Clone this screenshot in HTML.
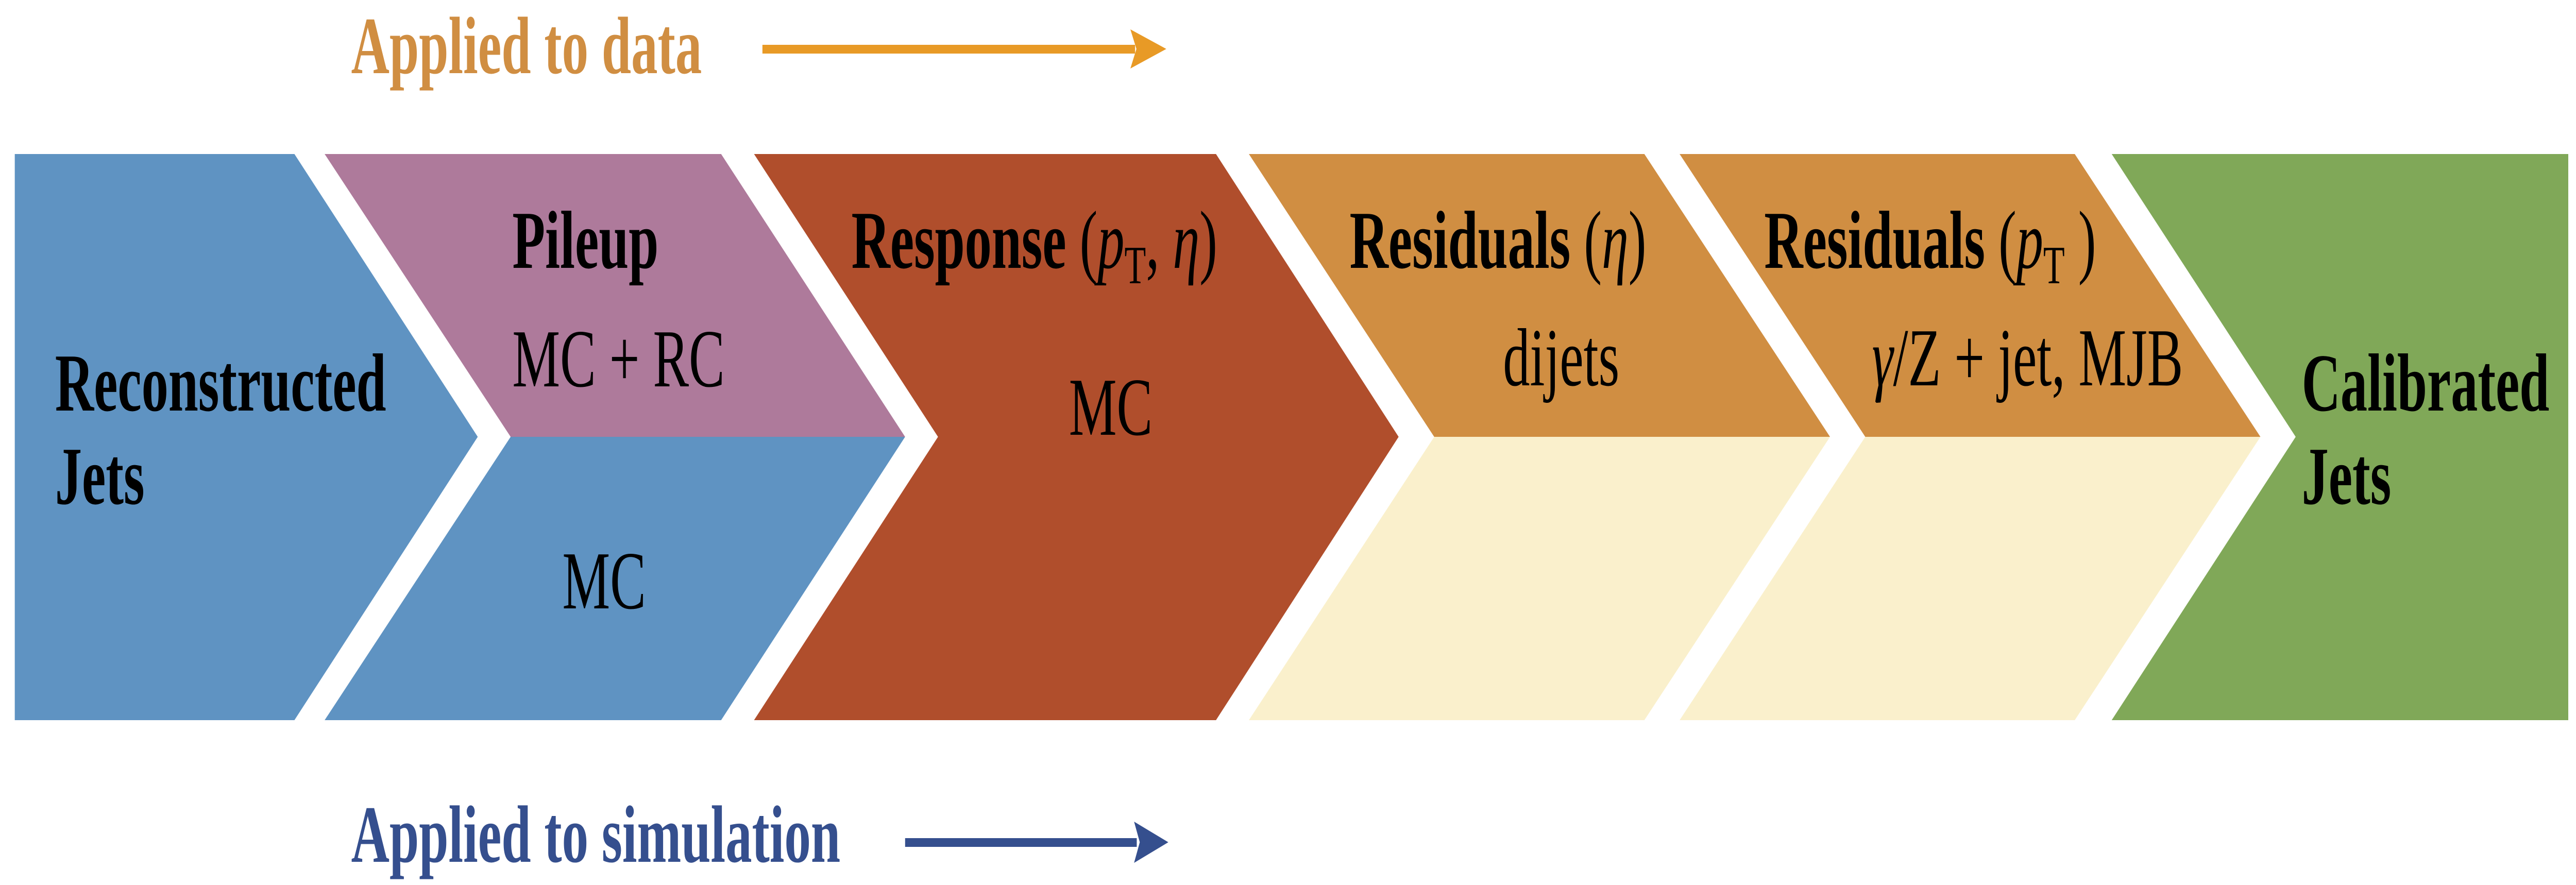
<!DOCTYPE html>
<html><head><meta charset="utf-8"><style>
html,body{margin:0;padding:0;background:#fff;overflow:hidden;width:100%;height:100%;}
svg{display:block;width:100vw;height:100vh;}
text{font-family:"Liberation Serif",serif;}
</style></head><body>
<svg viewBox="0 0 7673 1718" preserveAspectRatio="none" xmlns="http://www.w3.org/2000/svg">
<text x="1046" y="142" font-size="158" fill="#d08e42" font-weight="bold">Applied to data</text>
<rect x="2271" y="87" width="1110" height="17" fill="#e89a26"/>
<polygon points="3367,57 3474,95 3367,133 3385,95" fill="#e89a26"/>
<text x="1046" y="1673" font-size="158" fill="#354f8e" font-weight="bold">Applied to simulation</text>
<rect x="2696" y="1627" width="690" height="17" fill="#354f8e"/>
<polygon points="3378,1595 3480,1635 3378,1675 3395,1635" fill="#354f8e"/>

<polygon points="44,299 877,299 1423,848 877,1398 44,1398" fill="#5f93c2"/>
<polygon points="967,299 2148,299 2696,848 1521,848" fill="#ae7a9b"/>
<polygon points="1521,848 2696,848 2148,1398 967,1398" fill="#5f93c2"/>
<polygon points="2246,299 3622,299 4166,848 3622,1398 2246,1398 2794,848" fill="#b04e2c"/>
<polygon points="3720,299 4898,299 5451,848 4272,848" fill="#d08e42"/>
<polygon points="4272,848 5451,848 4898,1398 3720,1398" fill="#faf0cc"/>
<polygon points="5003,299 6180,299 6733,848 5556,848" fill="#d08e42"/>
<polygon points="5556,848 6733,848 6180,1398 5003,1398" fill="#faf0cc"/>
<polygon points="6290,299 7650,299 7650,1398 6290,1398 6838,848" fill="#80a858"/>

<g fill="#000" font-size="160">
<text x="164" y="797" font-weight="bold">Reconstructed</text>
<text x="164" y="978" font-weight="bold">Jets</text>
<text x="1526" y="520" font-weight="bold">Pileup</text>
<text x="1526" y="750">MC + RC</text>
<text x="1675" y="1181">MC</text>
<text x="2536" y="520"><tspan font-weight="bold">Response</tspan> (<tspan font-style="italic">p</tspan><tspan font-size="105" dy="30">T</tspan><tspan dy="-30">, </tspan><tspan font-style="italic">η</tspan>)</text>
<text x="3184" y="844">MC</text>
<text x="4020" y="520"><tspan font-weight="bold">Residuals</tspan> (<tspan font-style="italic">η</tspan>)</text>
<text x="4477" y="748">dijets</text>
<text x="5255" y="520"><tspan font-weight="bold">Residuals</tspan> (<tspan font-style="italic">p</tspan><tspan font-size="105" dy="30">T</tspan><tspan dy="-30"> )</tspan></text>
<text x="5576" y="748"><tspan font-style="italic">γ</tspan>/Z + jet, MJB</text>
<text x="6856" y="797" font-weight="bold">Calibrated</text>
<text x="6856" y="978" font-weight="bold">Jets</text>
</g>
</svg>
</body></html>
